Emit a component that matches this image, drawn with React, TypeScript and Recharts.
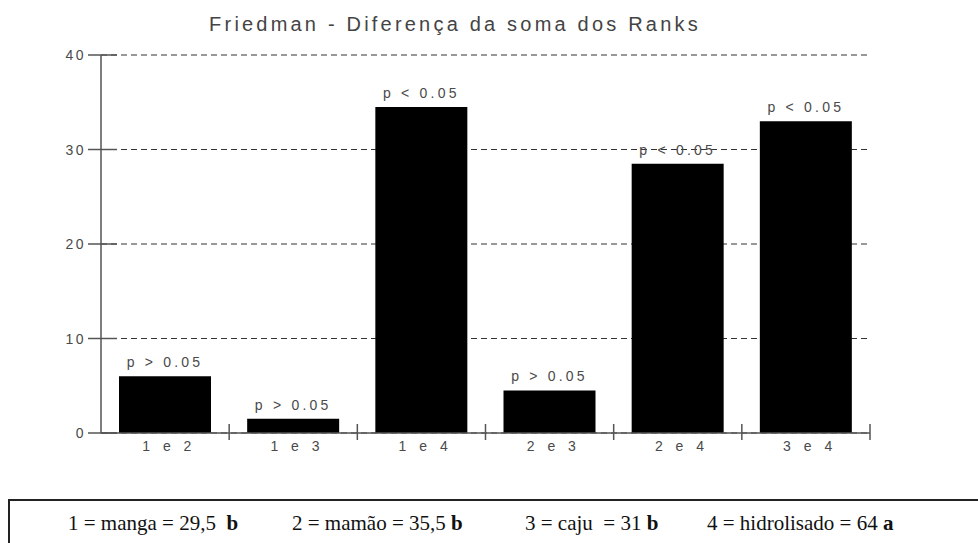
import React from 'react';
import { BarChart, Bar, XAxis, YAxis, CartesianGrid, LabelList } from 'recharts';

// comparisons between treatments (Friedman rank sums)
const pairs = ['1 e 2', '1 e 3', '1 e 4', '2 e 3', '2 e 4', '3 e 4'];
const rankDiffs = [6, 1.5, 34.5, 4.5, 28.5, 33];
const pLabels = ['p > 0.05', 'p > 0.05', 'p < 0.05', 'p > 0.05', 'p < 0.05', 'p < 0.05'];
const yTicks = [0, 10, 20, 30, 40];

// legend text below the chart
const legendItems = [
  { text: '1 = manga = 29,5\u00a0\u00a0', mark: 'b' },
  { text: '2 = mamão = 35,5 ', mark: 'b' },
  { text: '3 = caju\u00a0 = 31 ', mark: 'b' },
  { text: '4 = hidrolisado = 64 ', mark: 'a' },
];
const legendLeft = [68, 292, 525, 707];

const data = pairs.map((p, i) => ({ pair: p, diff: rankDiffs[i], p: pLabels[i] }));

const AXIS = '#555';
const TXT = '#4a4a4a';
const FONT = '"Liberation Sans", Arial, sans-serif';

const YTick = (props: any) => {
  const { x, y, payload } = props;
  return (
    <g>
      <line x1={x - 13} x2={x + 16} y1={y} y2={y} stroke={AXIS} strokeWidth={1.5} />
      <text
        x={x - 15}
        y={y}
        dy={5}
        textAnchor="end"
        fontSize={14}
        fontFamily={FONT}
        letterSpacing={2.5}
        fill={TXT}
      >
        {payload.value}
      </text>
    </g>
  );
};

const XTick = (props: any) => {
  const { x, y, payload } = props;
  const half = payload.offset || 64;
  return (
    <g>
      <line x1={x + half} x2={x + half} y1={y - 9} y2={y + 7} stroke={AXIS} strokeWidth={1.5} />
      <text
        x={x + 4}
        y={y + 18}
        textAnchor="middle"
        fontSize={14}
        fontFamily={FONT}
        letterSpacing={4.5}
        fill={TXT}
      >
        {payload.value}
      </text>
    </g>
  );
};

export default function App() {
  return (
    <div style={{ position: 'relative', width: 978, height: 543, background: '#fff', overflow: 'hidden' }}>
      <style>{'body{margin:0}'}</style>
      <div
        style={{
          position: 'absolute',
          left: 0,
          width: 910,
          top: 12,
          textAlign: 'center',
          fontFamily: FONT,
          fontSize: 20,
          letterSpacing: 3.2,
          color: '#444',
          lineHeight: '24px',
        }}
      >
        Friedman - Diferença da soma dos Ranks
      </div>
      <div style={{ position: 'absolute', left: 0, top: 0 }}>
        <BarChart
          width={978}
          height={480}
          data={data}
          margin={{ top: 55, right: 108, left: 0, bottom: 17 }}
          barCategoryGap={18}
        >
          <CartesianGrid
            vertical={false}
            stroke="#333"
            strokeDasharray="6 4"
            strokeWidth={1}
          />
          <XAxis
            dataKey="pair"
            height={30}
            stroke={AXIS}
            strokeWidth={1.5}
            tickLine={false}
            tickSize={0}
            tickMargin={0}
            tick={<XTick />}
            interval={0}
          />
          <YAxis
            width={101}
            domain={[0, 40]}
            ticks={yTicks}
            stroke={AXIS}
            strokeWidth={1.5}
            tickLine={false}
            tickSize={0}
            tickMargin={0}
            tick={<YTick />}
            interval={0}
          />
          <Bar dataKey="diff" fill="#000" isAnimationActive={false}>
            <LabelList
              dataKey="p"
              position="top"
              offset={9}
              fontSize={14}
              fontFamily={FONT}
              letterSpacing={3.2}
              fill={TXT}
            />
          </Bar>
        </BarChart>
      </div>
      <div
        style={{
          position: 'absolute',
          left: 8,
          top: 499,
          width: 990,
          height: 70,
          border: '2px solid #222',
          boxSizing: 'border-box',
        }}
      />
      {legendItems.map((it, i) => (
        <div
          key={i}
          style={{
            position: 'absolute',
            left: legendLeft[i],
            top: 510,
            fontFamily: '"Liberation Serif", "Times New Roman", serif',
            fontSize: 21,
            lineHeight: '26px',
            color: '#111',
            whiteSpace: 'pre',
          }}
        >
          {it.text}
          <b>{it.mark}</b>
        </div>
      ))}
    </div>
  );
}
